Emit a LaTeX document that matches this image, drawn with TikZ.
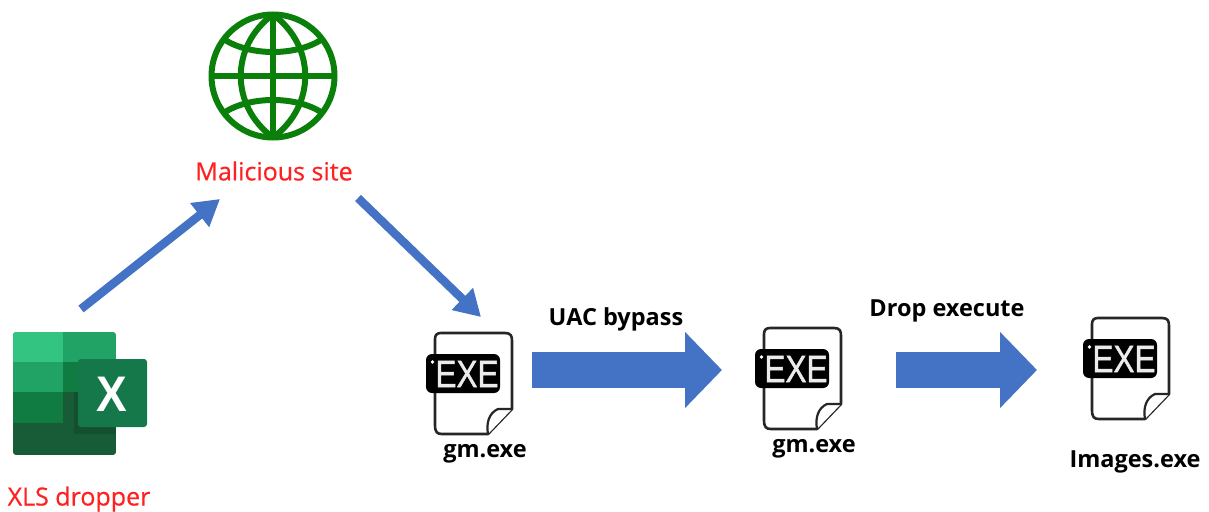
\documentclass[tikz,border=0pt]{standalone}
\usepackage{fontspec}
\usepackage{graphicx}
\setmainfont{Open Sans}
\newfontfamily\iconfont{Liberation Sans}
\newfontfamily\exefont[FakeBold=1.2]{Liberation Sans}
\newfontfamily\redfont[FakeBold=0.5]{Open Sans}
\usetikzlibrary{arrows.meta}
\definecolor{arrowblue}{HTML}{4472C4}
\definecolor{globegreen}{HTML}{0A800A}
\definecolor{labelred}{HTML}{FF2020}
\definecolor{xla}{HTML}{33C481}
\definecolor{xlb}{HTML}{21A366}
\definecolor{xlc}{HTML}{107C41}
\definecolor{xld}{HTML}{185C37}
\definecolor{xle}{HTML}{144F2F}
\definecolor{xlf}{HTML}{14784A}
\tikzset{
  x=1pt,y=-1pt,
  thinarrow/.style={draw=arrowblue,line width=8.5pt,-{Triangle[width=29pt,length=26pt]}},
  blockarrow/.style={draw=arrowblue,line width=36pt,-{Triangle[width=74pt,length=37pt]}},
  redlabel/.style={text=labelred,font=\fontsize{25}{27}\selectfont\redfont,inner sep=0pt},
  blacklabel/.style={text=black,font=\fontsize{23.5}{26}\selectfont\bfseries,inner sep=0pt},
  globeline/.style={draw=globegreen,line width=6pt},
  page/.style={draw=black!85,line width=2.6pt,line join=round,fill=white},
  pics/exefile/.style={code={
    \draw[page] (9,6) -- (9,92) .. controls (9,99) and (11,101) .. (16,101) -- (62,101) -- (86,76) -- (86,8)
       .. controls (86,3) and (85,0) .. (79,0) -- (15,0) .. controls (11,0) and (9,2) .. (9,6);
    \draw[page,line width=2.2pt] (62,101) .. controls (60,90) and (63,80) .. (72,76) -- (86,76);
    \fill[black,rounded corners=6pt] (0,21) rectangle (74,60);
    \fill[white] (6.5,29) circle (1.9pt);
    \node[text=white!92!black,inner sep=0pt,font=\fontsize{38}{38}\selectfont\exefont] at (41,41) {\scalebox{.83}[1]{EXE}};
  }}
}
\begin{document}
\begin{tikzpicture}
\useasboundingbox (0,0) rectangle (1209,511);
% globe
\begin{scope}[shift={(273,76)}]
  \draw[globeline] (0,0) circle (61.5);
  \draw[globeline] (0,-61.5) .. controls (-43,-30) and (-43,30) .. (0,61.5);
  \draw[globeline] (0,-61.5) .. controls (43,-30) and (43,30) .. (0,61.5);
  \draw[globeline] (0,-61.5) -- (0,61.5);
  \draw[globeline] (-61.5,0) -- (61.5,0);
  \draw[globeline] (-48,-36) .. controls (-22,-20) and (22,-20) .. (48,-36);
  \draw[globeline] (-48,36) .. controls (-22,20) and (22,20) .. (48,36);
\end{scope}
\node[redlabel] (site) at (274,171) {Malicious site};
% excel
\begin{scope}
  \clip[rounded corners=3pt] (13,332) rectangle (116,455);
  \fill[xlb] (13,332) rectangle (116,362);
  \fill[xla] (13,332) rectangle (63,362);
  \fill[xlb] (13,362) rectangle (63,392);
  \fill[xlc] (63,362) rectangle (116,392);
  \fill[xlc] (13,392) rectangle (63,423);
  \fill[xld] (63,392) rectangle (116,423);
  \fill[xld] (13,423) rectangle (116,455);
  \fill[xle] (74,392) rectangle (116,434);
\end{scope}
\fill[xlf,rounded corners=3pt] (78,359) rectangle (147,427);
\node[text=white,inner sep=0pt,font=\fontsize{50}{50}\selectfont\iconfont\bfseries] (xl) at (112,394) {\scalebox{.92}[1]{X}};
\node[redlabel] (xls) at (79,499) {XLS dropper};
% exe files
\pic at (426,333) {exefile};
\pic at (755,328) {exefile};
\pic at (1083,318) {exefile};
\node[blacklabel] (gma) at (485,454) {gm.exe};
\node[blacklabel] (gmb) at (814,449) {gm.exe};
\node[blacklabel] (img) at (1135,462) {Images.exe};
\node[blacklabel] (uac) at (616,319) {UAC bypass};
\node[blacklabel] (drop) at (947,311) {Drop execute};
% connectors
\coordinate (a1) at (81,309);
\coordinate (a2) at (220,199);
\coordinate (b1) at (358,198);
\coordinate (b2) at (481,317);
\coordinate (c1) at (532,370);
\coordinate (c2) at (722,370);
\coordinate (d1) at (896,370);
\coordinate (d2) at (1037,370);
\draw[thinarrow] (a1) -- (a2);
\draw[thinarrow] (b1) -- (b2);
\draw[blockarrow] (c1) -- (c2);
\draw[blockarrow] (d1) -- (d2);
\end{tikzpicture}
\end{document}
